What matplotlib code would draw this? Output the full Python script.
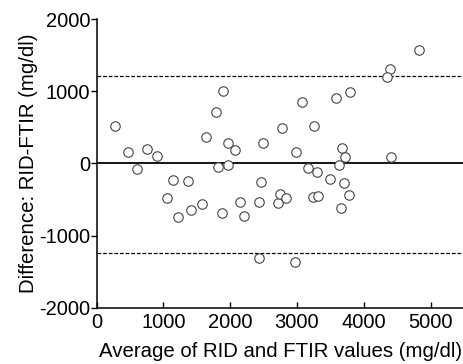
"""Bland-Altman plot: RID vs FTIR."""

import matplotlib
matplotlib.use("Agg")
import matplotlib.pyplot as plt

plt.rcParams["font.family"] = ["Liberation Sans", "DejaVu Sans"]
plt.rcParams["axes.unicode_minus"] = False

# Mean of the two methods (mg/dl)
avg_vals = [275, 475, 600, 755, 910, 1635, 1795, 1900, 1975, 2070,
            1825, 1970, 2490, 2770, 4820, 4390, 4350, 3080, 3585, 3800,
            3260, 2985, 3670, 3720, 3630, 4410, 3165, 3295, 1150, 1375,
            1055, 1225, 1410, 1580, 1885, 2145, 2205, 2455, 2435, 2435,
            2715, 2750, 3490, 3710, 3780, 3660, 3245, 3315, 2835, 2975]
# Difference RID - FTIR (mg/dl)
diff_vals = [520, 158, -84, 200, 102, 367, 706, 999, 287, 181,
             -47, -28, 287, 488, 1570, 1311, 1199, 851, 911, 985,
             520, 162, 209, 92, -24, 92, -61, -126, -228, -238,
             -479, -740, -642, -568, -693, -530, -731, -265, -530, -1316,
             -549, -418, -223, -279, -437, -614, -470, -456, -479, -1363]

bias = 0
upper_loa = 1210
lower_loa = -1237

x_ticks = [0, 1000, 2000, 3000, 4000, 5000]
y_ticks = [-2000, -1000, 0, 1000, 2000]

fig = plt.figure(figsize=(4.64, 3.64), dpi=100)
ax = fig.add_axes([0.208, 0.1547, 0.792, 0.7931])

ax.plot(avg_vals, diff_vals, "o", ms=6.8, mfc="white", mec="#444444", mew=0.8,
        zorder=3, clip_on=False)
ax.axhline(bias, color="black", lw=1.3, zorder=2)
ax.axhline(upper_loa, color="black", lw=0.9, ls=(0, (3, 1.5)), zorder=2)
ax.axhline(lower_loa, color="black", lw=0.9, ls=(0, (3, 1.5)), zorder=2)

ax.set_xlim(0, 5500)
ax.set_ylim(-2000, 2000)
ax.set_xticks(x_ticks)
ax.set_yticks(y_ticks)

for side in ["top", "right"]:
    ax.spines[side].set_visible(False)
for side in ["left", "bottom"]:
    ax.spines[side].set_linewidth(1.1)

ax.tick_params(axis="x", direction="in", length=4, width=1, labelsize=14.5, pad=4)
ax.tick_params(axis="y", direction="out", length=4, width=1, labelsize=14.5, pad=0.5)

ax.set_xlabel("Average of RID and FTIR values (mg/dl)", fontsize=14.7, labelpad=7)
ax.set_ylabel("Difference: RID-FTIR (mg/dl)", fontsize=14.7, labelpad=1)

fig.savefig("out.png", dpi=100)
